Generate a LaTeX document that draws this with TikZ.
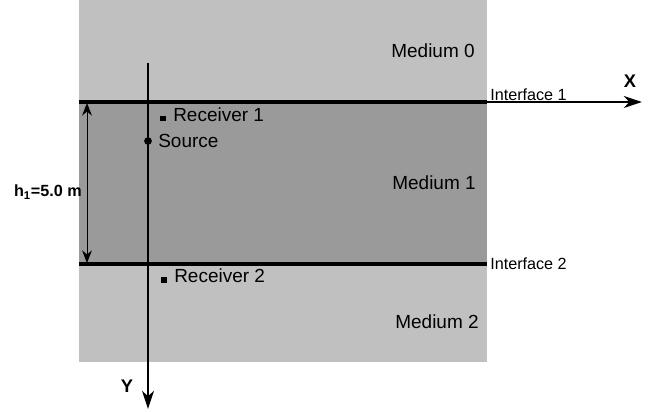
\documentclass[tikz,border=0pt]{standalone}
\usepackage{fontspec}
\setmainfont{Liberation Sans}
\usetikzlibrary{positioning, arrows.meta}

\definecolor{outerMed}{HTML}{C0C0C0}
\definecolor{layerMed}{HTML}{9A9A9A}

\begin{document}
\begin{tikzpicture}[x=0.025cm, y=-0.025cm,
    medium/.style={inner sep=0pt, font=\fontsize{13.5}{16}\selectfont},
    iflabel/.style={inner sep=0pt, anchor=west, font=\fontsize{11.5}{14}\selectfont},
    axlabel/.style={inner sep=0pt, font=\bfseries\fontsize{13}{15}\selectfont},
    iface/.style={line width=2.3pt},
    axis/.style={line width=0.9pt, -{Stealth[length=13pt, width=8.5pt, inset=4pt]}},
    dim/.style={line width=0.7pt, {Stealth[length=9pt, width=7pt, inset=3pt]}-{Stealth[length=9pt, width=7pt, inset=3pt]}}]
        \useasboundingbox (0,0) rectangle (649,412);

        % media
        \fill[outerMed] (79,0) rectangle (487,362);
        \fill[layerMed] (79,102) rectangle (487,264);

        \coordinate (i1w) at (79,102);
        \coordinate (i1e) at (487,102);
        \coordinate (i2w) at (79,264);
        \coordinate (i2e) at (487,264);
        \coordinate (xend) at (642,102);
        \coordinate (ytop) at (148,63);
        \coordinate (yend) at (148,409);
        \coordinate (htop) at (87,103);
        \coordinate (hbot) at (87,263);

        % axes and interfaces
        \draw[axis] (i1w) -- (xend);
        \draw[axis] (ytop) -- (yend);
        \draw[iface] (i1w) -- (i1e);
        \draw[iface] (i2w) -- (i2e);
        \draw[dim] (htop) -- (hbot);

        % source and receivers
        \node[circle, fill, inner sep=0pt, minimum size=5.5pt] (src) at (148,141) {};
        \node[fill, inner sep=0pt, minimum size=3.6pt] (rec1) at (163,118.5) {};
        \node[fill, inner sep=0pt, minimum size=3.6pt] (rec2) at (164,280) {};

        \node[medium, anchor=west] (srcT) at (158,141) {Source};
        \node[medium, anchor=west] (rec1T) at (173,114.5) {Receiver 1};
        \node[medium, anchor=west] (rec2T) at (174,276) {Receiver 2};

        \node[medium] (m0) at (433,51) {Medium 0};
        \node[medium] (m1) at (434,183) {Medium 1};
        \node[medium] (m2) at (437,322) {Medium 2};

        \node[iflabel] (if1) at (490,95) {Interface 1};
        \node[iflabel] (if2) at (490,264) {Interface 2};

        \node[axlabel] (xl) at (630,81) {X};
        \node[axlabel] (yl) at (127,386) {Y};
        \node[axlabel, anchor=east, font=\bfseries\fontsize{11.5}{14}\selectfont] (hl) at (82,192) {h\textsubscript{1}=5.0 m};
      \end{tikzpicture}
\end{document}
